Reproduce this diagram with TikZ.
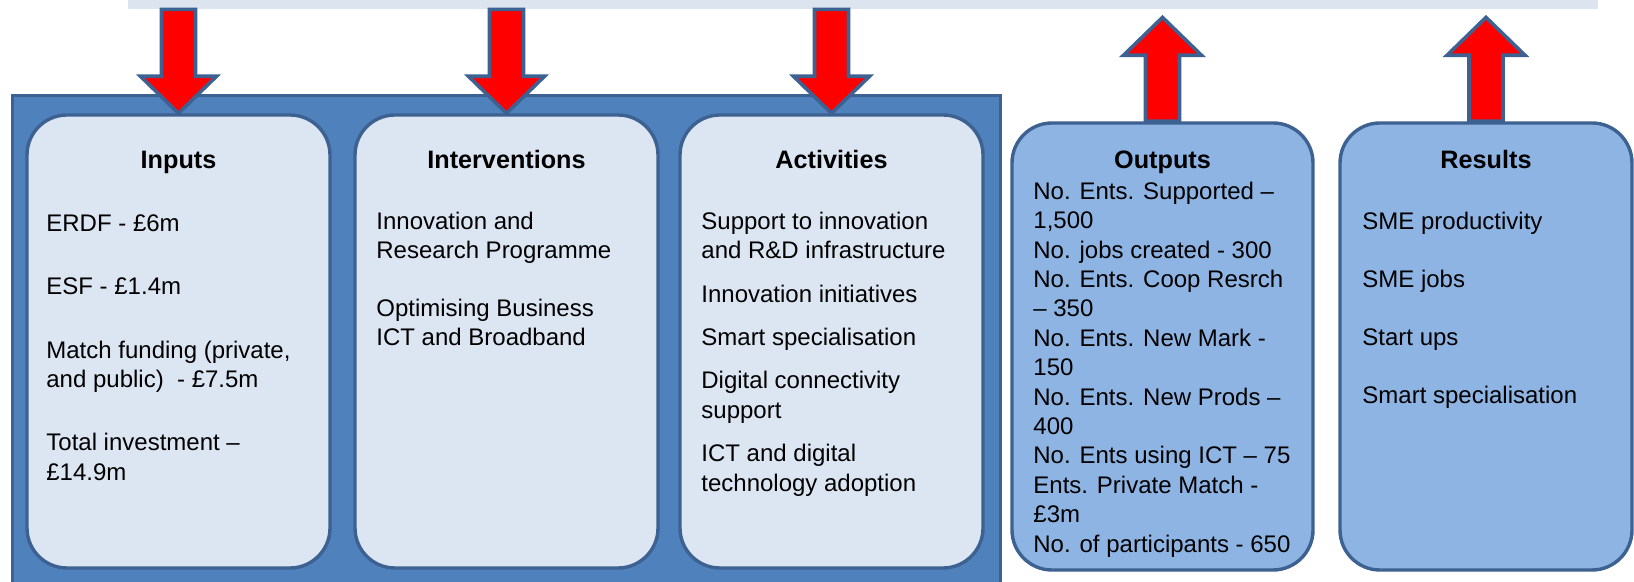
\documentclass[tikz,border=0pt]{standalone}
\usepackage{fontspec}
\setmainfont{Liberation Sans}
\usetikzlibrary{calc}
\definecolor{bandblue}{HTML}{DCE4EF}
\definecolor{edgeblue}{HTML}{3D6291}
\definecolor{midblue}{HTML}{4F81BD}
\definecolor{paleblue}{HTML}{DCE6F2}
\definecolor{skyblue}{HTML}{8EB4E3}
\begin{document}
\begin{tikzpicture}[x=0.5pt, y=-0.5pt,
    outerframe/.style={draw=edgeblue, fill=midblue, line width=1.5pt,
      minimum width=494pt, minimum height=252pt, inner sep=0pt},
    inbox/.style={draw=edgeblue, fill=paleblue, line width=1.7pt, rounded corners=20pt,
      minimum width=151.5pt, minimum height=226.5pt, inner sep=0pt},
    outbox/.style={inbox, fill=skyblue, minimum width=150.5pt, minimum height=223.5pt},
    heading/.style={anchor=base, inner sep=0pt, font=\bfseries\fontsize{12.6}{15}\selectfont},
    body/.style={anchor=north west, align=left, inner sep=0pt, font=\fontsize{12}{14.7}\selectfont},
    bigarrow/.style={draw=edgeblue, fill=red, line width=1.8pt, line join=miter}]
  \useasboundingbox (0,0) rectangle (1634,582);
  \node[fill=bandblue, minimum width=735pt, minimum height=9pt, inner sep=0pt] (band) at (863,0) {};
  \node[outerframe] (frame) at (506,348) {};
  \node[inbox] (inp) at (178.5,341.5) {};
  \node[inbox] (itv) at (506.5,341.5) {};
  \node[inbox] (act) at (831.5,341.5) {};
  \node[outbox] (out) at (1162.5,346.5) {};
  \node[outbox, minimum width=146pt] (res) at (1486,346.5) {};
  \coordinate (hy) at (0,169);
  \foreach \b/\t in {inp/Inputs, itv/Interventions, act/Activities, out/Outputs, res/Results}
    \node[heading] (\b-head) at (\b |- hy) {\t};
  % box texts (first baseline = y + 20.6)
  \node[body] (inp-text) at (46,210.4) {\strut ERDF - £6m\\[17pt] ESF - £1.4m\\[17pt]
    Match funding (private,\\ and public) \ - £7.5m\\[17pt] Total investment --\\ £14.9m};
  \node[body] (itv-text) at (376,208.4) {\strut Innovation and\\ Research Programme\\[14pt]
    Optimising Business\\ ICT and Broadband};
  \node[body] (act-text) at (701,208.4) {\strut Support to innovation\\ and R\&D infrastructure\\[7pt]
    Innovation initiatives\\[7pt] Smart specialisation\\[7pt] Digital connectivity\\ support\\[7pt]
    ICT and digital\\ technology adoption};
  \node[body] (out-text) at (1033,178.4) {\strut No. Ents. Supported --\\ 1,500\\ No. jobs created - 300\\
    No. Ents. Coop Resrch\\ -- 350\\ No. Ents. New Mark -\\ 150\\ No. Ents. New Prods --\\ 400\\
    No. Ents using ICT -- 75\\ Ents. Private Match -\\ £3m\\ No. of participants - 650};
  \node[body] (res-text) at (1362,208.4) {\strut SME productivity\\[14.3pt] SME jobs\\[14.3pt]
    Start ups\\[14.3pt] Smart specialisation};
  % arrows
  \foreach \b in {inp,itv,act}
    \draw[bigarrow] (\b.north) -- ++(-38,-37) -- ++(21,0) -- ($(\b.north |- band.south)+(-17,0)$)
      -- ++(34,0) -- ($(\b.north)+(17,-37)$) -- ++(21,0) -- cycle;
  \foreach \b in {out,res}
    \draw[bigarrow] ($(\b.north)+(-17,0)$) -- ++(0,-66) -- ++(-22,0) -- ($(\b.north |- band.south)+(0,8)$)
      -- ($(\b.north)+(39,-66)$) -- ++(-22,0) -- ++(0,66) -- cycle;
\end{tikzpicture}
\end{document}
